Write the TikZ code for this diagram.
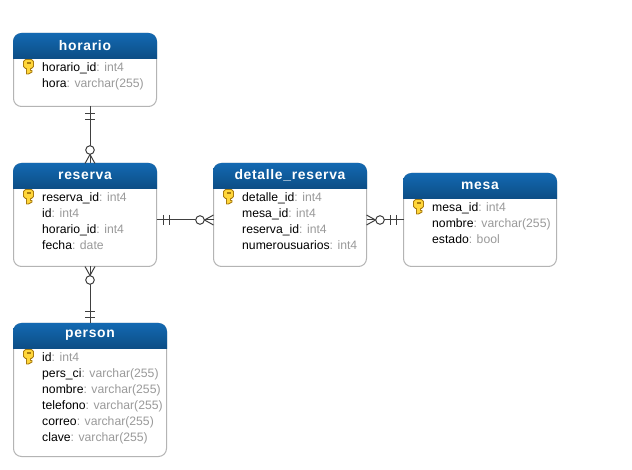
\documentclass[tikz,border=0pt]{standalone}
\usepackage{fontspec}
\setmainfont{Liberation Sans}
\usetikzlibrary{calc}
\definecolor{hdtop}{HTML}{1369B2}
\definecolor{hdbot}{HTML}{0C4D84}
\definecolor{edge}{HTML}{B4B4B4}
\definecolor{typegrey}{HTML}{9A9A9A}
\definecolor{link}{HTML}{404040}
\definecolor{keygold}{HTML}{FFD63A}
\definecolor{keydark}{HTML}{A87A10}
\tikzset{
  x=1pt,y=-1pt,
  ebox/.style={draw=edge,fill=white,line width=1pt,rounded corners=8pt,outer sep=0pt,inner sep=0pt,anchor=north west},
  etitle/.style={text=white,font=\fontsize{13.9}{14}\selectfont\bfseries\addfontfeature{LetterSpace=5},anchor=center,inner sep=0pt},
  attr/.style={text=black,font=\fontsize{12.2}{13}\selectfont,anchor=base west,inner sep=0pt},
  rel/.style={draw=link,line width=1pt},
}
\newcommand{\typ}[1]{\textcolor{typegrey}{#1}}
% name, x, y, w, h, title
\newcommand{\entity}[6]{%
  \node[ebox,minimum width=#4pt,minimum height=#5pt] (#1) at (#2,#3) {};
  \shade[top color=hdtop,bottom color=hdbot]
    (#2-.5,#3+25.5) -- (#2-.5,#3+8) arc[start angle=180,end angle=90,radius=8.5pt]
    -- ({#2+#4-8},#3-.5) arc[start angle=90,end angle=0,radius=8.5pt]
    -- ({#2+#4+.5},#3+25.5) -- cycle;
  \node[etitle] (#1title) at ({#2+#4/2},#3+12) {#6};
  \begin{scope}[shift={(#2+10,#3+26)}]
    \fill[keygold,draw=keydark,line width=.9pt,line join=round]
      (0,2) -- (2,0) -- (8,0) -- (10,2) -- (10,7) -- (8,9) -- (7,9) -- (7,11) -- (8.5,11) -- (8.5,12.5) -- (5,14.5) -- (3,14.5) -- (3,9) -- (2,9) -- (0,7) -- cycle;
    \fill[keydark] (3,3) rectangle (7,4.5);
  \end{scope}
}
\newcommand{\attrib}[4]{\node[attr] (#1) at (#2,#3) {#4};}
\begin{document}
\begin{tikzpicture}
\useasboundingbox[fill=white] (0,0) rectangle (632,470);

\entity{horario}{13.5}{33.5}{143}{73}{horario}
\attrib{h1}{42}{71.5}{horario\_id\typ{: int4}}
\attrib{h2}{42}{87.5}{hora\typ{: varchar(255)}}

\entity{reserva}{13.5}{163.5}{143}{103}{reserva}
\attrib{r1}{42}{201.5}{reserva\_id\typ{: int4}}
\attrib{r2}{42}{217.5}{id\typ{: int4}}
\attrib{r3}{42}{233.5}{horario\_id\typ{: int4}}
\attrib{r4}{42}{249.5}{fecha\typ{: date}}

\entity{detalle}{213.5}{163.5}{153}{103}{detalle\_reserva}
\attrib{d1}{242}{201.5}{detalle\_id\typ{: int4}}
\attrib{d2}{242}{217.5}{mesa\_id\typ{: int4}}
\attrib{d3}{242}{233.5}{reserva\_id\typ{: int4}}
\attrib{d4}{242}{249.5}{numerousuarios\typ{: int4}}

\entity{mesa}{403.5}{173.5}{153}{93}{mesa}
\attrib{m1}{432}{211.5}{mesa\_id\typ{: int4}}
\attrib{m2}{432}{227.5}{nombre\typ{: varchar(255)}}
\attrib{m3}{432}{243.5}{estado\typ{: bool}}

\entity{person}{13.5}{323.5}{153}{133}{person}
\attrib{p1}{42}{361.5}{id\typ{: int4}}
\attrib{p2}{42}{377.5}{pers\_ci\typ{: varchar(255)}}
\attrib{p3}{42}{393.5}{nombre\typ{: varchar(255)}}
\attrib{p4}{42}{409.5}{telefono\typ{: varchar(255)}}
\attrib{p5}{42}{425.5}{correo\typ{: varchar(255)}}
\attrib{p6}{42}{441.5}{clave\typ{: varchar(255)}}

% horario -- reserva
\coordinate (hs) at ($(horario.south west)+(76.5,0)$);
\coordinate (rn) at ($(reserva.north west)+(76.5,0)$);
\draw[rel] (hs) -- (rn);
\draw[rel] ($(hs)+(-5,7)$) -- ($(hs)+(5,7)$);
\draw[rel] ($(hs)+(-5,13)$) -- ($(hs)+(5,13)$);
\draw[rel,fill=white] ($(rn)+(0,-13.5)$) circle[radius=4.3pt];
\draw[rel] ($(rn)+(0,-9)$) -- ($(rn)+(-5,0)$);
\draw[rel] ($(rn)+(0,-9)$) -- ($(rn)+(5,0)$);

% reserva -- person
\coordinate (rs) at ($(reserva.south west)+(76.5,0)$);
\coordinate (pn) at ($(person.north west)+(76.5,0)$);
\draw[rel] (rs) -- (pn);
\draw[rel] ($(pn)+(-5,-12)$) -- ($(pn)+(5,-12)$);
\draw[rel] ($(pn)+(-5,-6)$) -- ($(pn)+(5,-6)$);
\draw[rel,fill=white] ($(rs)+(0,13.5)$) circle[radius=4.3pt];
\draw[rel] ($(rs)+(0,9)$) -- ($(rs)+(-5,0)$);
\draw[rel] ($(rs)+(0,9)$) -- ($(rs)+(5,0)$);

% reserva -- detalle
\coordinate (re) at ($(reserva.north east)+(0,56.5)$);
\coordinate (dw) at ($(detalle.north west)+(0,56.5)$);
\draw[rel] (re) -- (dw);
\draw[rel] ($(re)+(7,-5)$) -- ($(re)+(7,5)$);
\draw[rel] ($(re)+(13,-5)$) -- ($(re)+(13,5)$);
\draw[rel,fill=white] ($(dw)+(-13.5,0)$) circle[radius=4.3pt];
\draw[rel] ($(dw)+(-9,0)$) -- ($(dw)+(0,-5)$);
\draw[rel] ($(dw)+(-9,0)$) -- ($(dw)+(0,5)$);

% detalle -- mesa
\coordinate (de) at ($(detalle.north east)+(0,56.5)$);
\coordinate (mw) at ($(mesa.north west)+(0,46.5)$);
\draw[rel] (de) -- (mw);
\draw[rel] ($(mw)+(-13,-5)$) -- ($(mw)+(-13,5)$);
\draw[rel] ($(mw)+(-7,-5)$) -- ($(mw)+(-7,5)$);
\draw[rel,fill=white] ($(de)+(13.5,0)$) circle[radius=4.3pt];
\draw[rel] ($(de)+(9,0)$) -- ($(de)+(0,-5)$);
\draw[rel] ($(de)+(9,0)$) -- ($(de)+(0,5)$);
\end{tikzpicture}
\end{document}
